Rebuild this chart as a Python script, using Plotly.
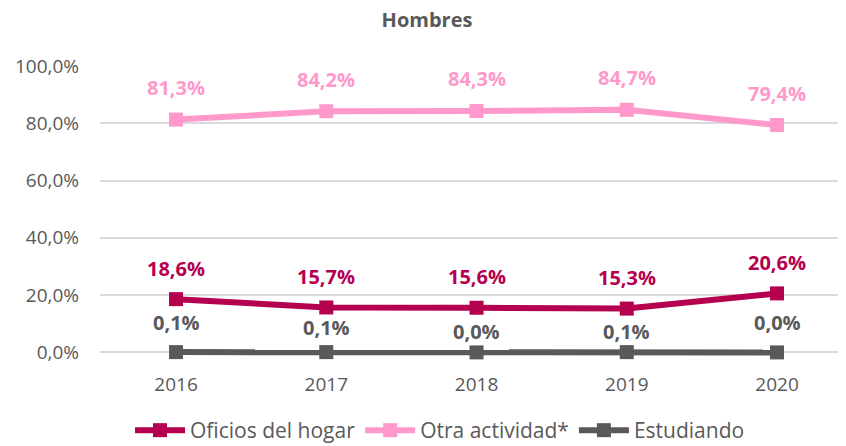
import plotly.graph_objects as go

years = ["2016", "2017", "2018", "2019", "2020"]
oficios = [18.6, 15.7, 15.6, 15.3, 20.6]
otra = [81.3, 84.2, 84.3, 84.7, 79.4]
estudiando = [0.1, 0.1, 0.0, 0.1, 0.0]
y_ticks = [0, 20, 40, 60, 80, 100]
y_tick_labels = ["0,0%", "20,0%", "40,0%", "60,0%", "80,0%", "100,0%"]

c_of = "#B5004F"
c_ot = "#FF99CC"
c_es = "#595959"
FONT = "Open Sans"

# page body has an 8px margin: figure occupies window x 8..846, y 8..446
W, H = 838, 438
YMIN, YMAX = -3, 100
PX_PER_UNIT = 286 / 100
ML, MT, MR = 92, 58, 0
PH = PX_PER_UNIT * (YMAX - YMIN)
MB = H - MT - PH
EXTRA = -YMIN * PX_PER_UNIT  # px between zero line and plot bottom


def fmt(v):
    return f"{v:.1f}%".replace(".", ",")


fig = go.Figure()
for name, vals, col in [("Oficios del hogar", oficios, c_of),
                        ("Otra actividad*", otra, c_ot),
                        ("Estudiando", estudiando, c_es)]:
    fig.add_trace(go.Scatter(
        x=years, y=vals, name=name, mode="lines+markers",
        line=dict(color=col, width=6),
        marker=dict(symbol="square", size=14, color=col),
        cliponaxis=False,
    ))

ann = []
es_shift = [30, 25, 21, 21, 30]
for i, y in enumerate(years):
    ann.append(dict(x=i, y=otra[i], text=f"<b>{fmt(otra[i])}</b>", showarrow=False,
                    yshift=32, font=dict(size=20, color=c_ot, family=FONT)))
    ann.append(dict(x=i, y=oficios[i], text=f"<b>{fmt(oficios[i])}</b>", showarrow=False,
                    yshift=31, font=dict(size=20, color=c_of, family=FONT)))
    ann.append(dict(x=i, y=estudiando[i], text=f"<b>{fmt(estudiando[i])}</b>", showarrow=False,
                    yshift=es_shift[i], font=dict(size=20, color=c_es, family=FONT)))

LEG_BELOW = 430 - 352  # legend centre below the zero line, px
fig.update_layout(
    width=W, height=H,
    margin=dict(l=ML, r=MR, t=MT, b=MB, pad=0, autoexpand=False),
    paper_bgcolor="white", plot_bgcolor="white",
    font=dict(family=FONT, color=c_es),
    title=dict(text="<b>Hombres</b>", x=0.5, xanchor="center", y=1 - 12 / H, yanchor="middle",
               font=dict(size=20, color=c_es, family=FONT)),
    xaxis=dict(type="category", range=[-0.506, 4.459], showgrid=False, zeroline=False,
               showline=False, ticks="", tickfont=dict(size=19, color=c_es),
               ticklabelstandoff=int(round(19 - EXTRA))),
    yaxis=dict(range=[YMIN, YMAX], tickvals=y_ticks, ticktext=y_tick_labels, showgrid=True,
               gridcolor="#D9D9D9", gridwidth=1.5, zeroline=False, showline=False,
               tickfont=dict(size=19, color=c_es), ticks="", automargin=False,
               ticklabelstandoff=20),
    showlegend=True,
    legend=dict(orientation="h", x=(440 - 8 - ML) / (W - ML - MR), xanchor="center",
                y=-(LEG_BELOW - EXTRA) / PH, yanchor="middle",
                font=dict(size=21, color=c_es, family=FONT), itemwidth=50,
                traceorder="normal"),
    annotations=ann,
)
fig.write_html("out.html")
